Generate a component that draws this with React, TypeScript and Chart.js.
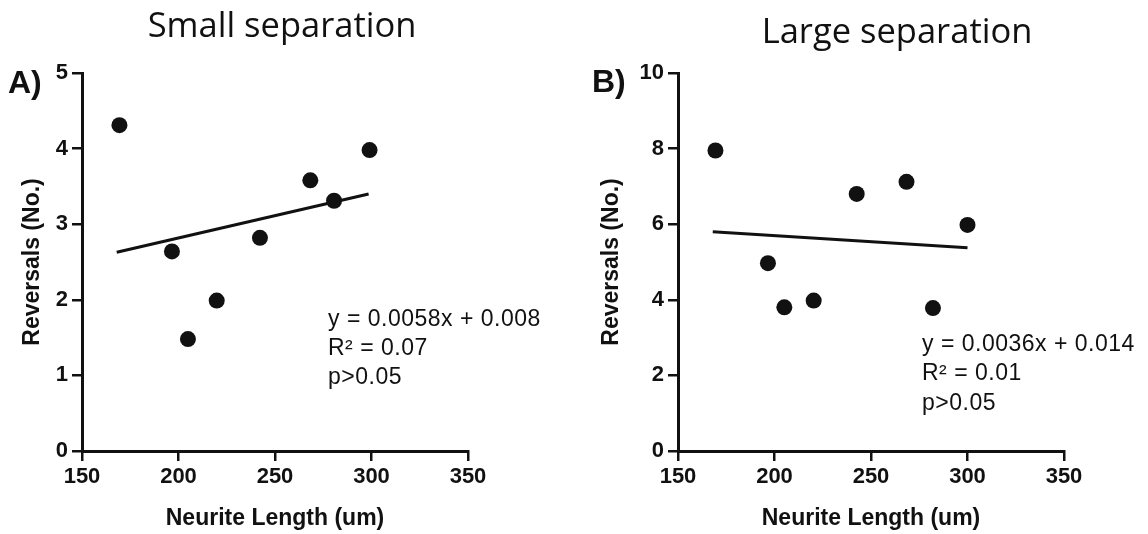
import React, { useEffect, useRef } from 'react';
import { Chart, registerables } from 'chart.js';

Chart.register(...registerables);

// ---- Data ----
const xTicks = [150, 200, 250, 300, 350];
const yTicksA = [0, 1, 2, 3, 4, 5];
const yTicksB = [0, 2, 4, 6, 8, 10];

const neuriteA = [169.4, 196.6, 204.9, 219.8, 242.2, 268.3, 280.6, 299.0];
const reversalsA = [4.31, 2.64, 1.48, 1.99, 2.82, 3.58, 3.31, 3.98];
const fitXA = [168, 298.5];
const fitYA = [2.63, 3.4];

const neuriteB = [169.4, 196.6, 205.1, 220.3, 242.6, 268.4, 282.1, 300.0];
const reversalsB = [7.95, 4.97, 3.8, 3.98, 6.8, 7.12, 3.78, 5.98];
const fitXB = [168, 300];
const fitYB = [5.8, 5.38];

const annotationA = ['y = 0.0058x + 0.008', 'R\u00b2 = 0.07', 'p>0.05'];
const annotationB = ['y = 0.0036x + 0.014', 'R\u00b2 = 0.01', 'p>0.05'];

const titleA = 'Small separation';
const titleB = 'Large separation';
const xAxisTitle = 'Neurite Length (um)';
const yAxisTitle = 'Reversals (No.)';

const INK = '#111111';

const textPlugin = {
  id: 'panelText',
  afterDraw(chart: any, _args: any, opts: any) {
    const ctx = chart.ctx as CanvasRenderingContext2D;
    ctx.save();
    ctx.fillStyle = INK;
    // main title
    ctx.font = '34.5px "Open Sans"';
    ctx.textAlign = 'center';
    ctx.textBaseline = 'alphabetic';
    ctx.fillText(opts.title, opts.titleX, opts.titleY);
    // panel letter
    ctx.font = 'bold 32px "Liberation Sans"';
    ctx.textAlign = 'left';
    ctx.fillText(opts.letter, opts.letterX, opts.letterY);
    // annotation
    ctx.font = '23px "Liberation Sans"';
    (ctx as any).letterSpacing = '0.5px';
    ctx.textBaseline = 'middle';
    (opts.lines as string[]).forEach((t, i) => {
      ctx.fillText(t, opts.annX, opts.annYs[i]);
    });
    ctx.restore();
  },
};

type PanelProps = {
  left: number;
  xs: number[];
  ys: number[];
  fitX: number[];
  fitY: number[];
  yTicks: number[];
  yWidth: number;
  padRight: number;
  yTitlePad: number;
  text: any;
};

function Panel(p: PanelProps) {
  const ref = useRef<HTMLCanvasElement | null>(null);
  useEffect(() => {
    if (!ref.current) return;
    const pts = p.xs.map((x, i) => ({ x, y: p.ys[i] }));
    const fit = p.fitX.map((x, i) => ({ x, y: p.fitY[i] }));
    const tickFont = { family: '"Liberation Sans"', size: 22, weight: 'bold' as const };
    const titleFont = { family: '"Liberation Sans"', size: 23, weight: 'bold' as const };
    const yMax = p.yTicks[p.yTicks.length - 1];
    const yStep = p.yTicks[1] - p.yTicks[0];
    const chart = new Chart(ref.current, {
      type: 'scatter',
      data: {
        datasets: [
          {
            type: 'line',
            data: fit,
            borderColor: INK,
            borderWidth: 3,
            pointRadius: 0,
            fill: false,
          } as any,
          {
            type: 'scatter',
            data: pts,
            backgroundColor: INK,
            borderWidth: 0,
            pointRadius: 8,
            pointHoverRadius: 8,
          },
        ],
      },
      options: {
        animation: false,
        responsive: false,
        events: [],
        layout: { padding: { left: 0, top: 73, right: p.padRight, bottom: 0 } },
        plugins: {
          legend: { display: false },
          tooltip: { enabled: false },
          panelText: p.text,
        } as any,
        scales: {
          x: {
            type: 'linear',
            min: xTicks[0],
            max: xTicks[xTicks.length - 1],
            afterFit: (s: any) => {
              s.height = 83;
            },
            afterBuildTicks: (s: any) => {
              s.ticks = xTicks.map((v) => ({ value: v }));
            },
            ticks: { font: tickFont, color: INK, padding: 3, maxRotation: 0 },
            grid: { drawOnChartArea: false, drawTicks: true, tickLength: 10, lineWidth: 2.5, color: INK },
            border: { display: true, width: 3, color: INK },
            title: { display: true, text: xAxisTitle, font: titleFont, color: INK, padding: { top: 0, bottom: 2 } },
          },
          y: {
            type: 'linear',
            min: 0,
            max: yMax,
            afterFit: (s: any) => {
              s.width = p.yWidth;
            },
            afterBuildTicks: (s: any) => {
              s.ticks = p.yTicks.map((v) => ({ value: v }));
            },
            ticks: { font: tickFont, color: INK, padding: 4, stepSize: yStep },
            grid: { drawOnChartArea: false, drawTicks: true, tickLength: 10, lineWidth: 2.5, color: INK },
            border: { display: true, width: 3, color: INK },
            title: { display: true, text: yAxisTitle, font: titleFont, color: INK, padding: { top: p.yTitlePad, bottom: 0 } },
          },
        },
      },
      plugins: [textPlugin],
    });
    return () => chart.destroy();
  }, []);
  return (
    <canvas
      ref={ref}
      width={574}
      height={534}
      style={{ position: 'absolute', left: p.left, top: 0, width: 574, height: 534 }}
    />
  );
}

export default function App() {
  return (
    <div style={{ position: 'absolute', left: 0, top: 0, width: 1148, height: 534, background: '#fff' }}>
      <Panel
        left={0}
        xs={neuriteA}
        ys={reversalsA}
        fitX={fitXA}
        fitY={fitYA}
        yTicks={yTicksA}
        yWidth={82}
        padRight={106}
        yTitlePad={19}
        text={{
          title: titleA,
          titleX: 282,
          titleY: 37,
          letter: 'A)',
          letterX: 8,
          letterY: 93,
          lines: annotationA,
          annX: 328,
          annYs: [320, 349, 378],
        }}
      />
      <Panel
        left={574}
        xs={neuriteB}
        ys={reversalsB}
        fitX={fitXB}
        fitY={fitYB}
        yTicks={yTicksB}
        yWidth={104}
        padRight={84}
        yTitlePad={24}
        text={{
          title: titleB,
          titleX: 897 - 574,
          titleY: 43,
          letter: 'B)',
          letterX: 592 - 574,
          letterY: 92,
          lines: annotationB,
          annX: 922 - 574,
          annYs: [345, 374, 404],
        }}
      />
    </div>
  );
}
